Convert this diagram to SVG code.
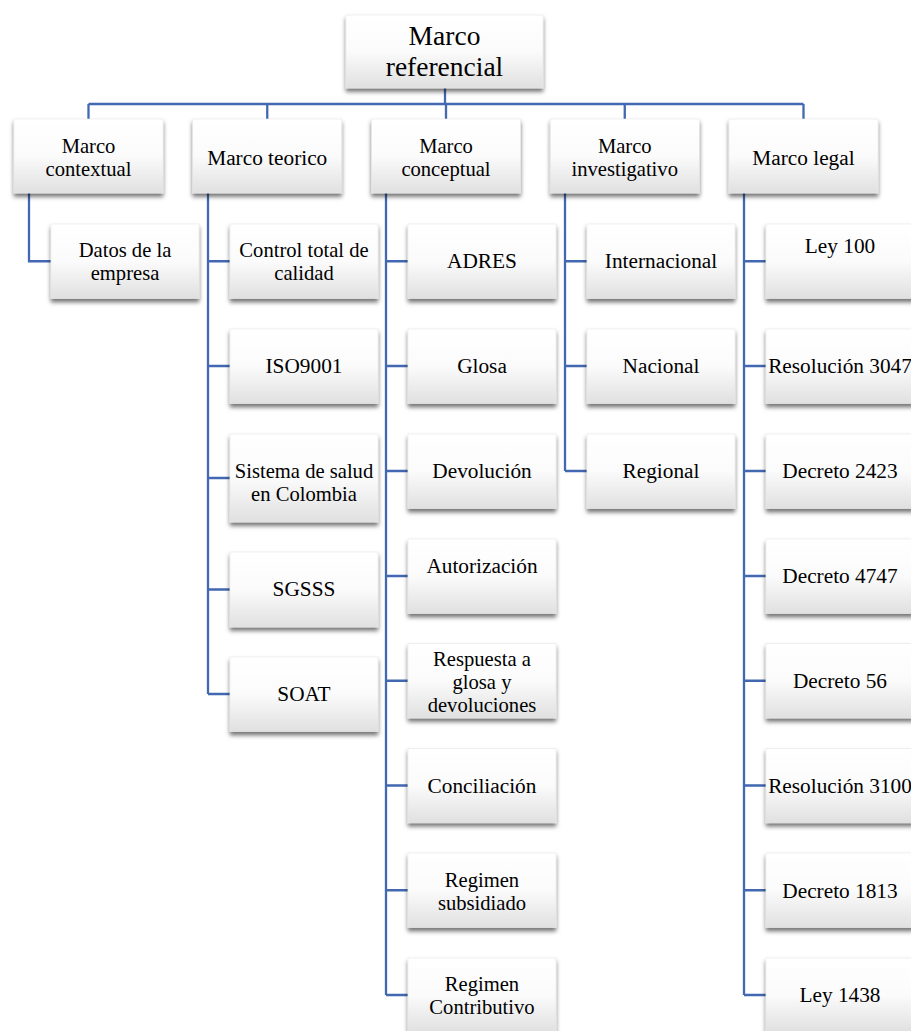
<svg xmlns="http://www.w3.org/2000/svg" width="911" height="1031" viewBox="0 0 911 1031">
<defs>
<linearGradient id="g" x1="0" y1="0" x2="0" y2="1">
<stop offset="0" stop-color="#ffffff"/>
<stop offset="0.5" stop-color="#fbfbfb"/>
<stop offset="1" stop-color="#e0e0e0"/>
</linearGradient>
<filter id="sh" x="-10%" y="-10%" width="120%" height="130%">
<feDropShadow dx="0" dy="3.5" stdDeviation="2.2" flood-color="#000" flood-opacity="0.55"/>
</filter>
<style>
.b{fill:url(#g);stroke:#e6e6e6;stroke-width:0.6;filter:url(#sh)}
.t{font-family:"Liberation Serif","Times New Roman",serif;font-size:21.3px;text-anchor:middle;fill:#000}
.m{font-family:"Liberation Serif","Times New Roman",serif;font-size:20.6px;text-anchor:middle;fill:#000}
.tt{font-family:"Liberation Serif","Times New Roman",serif;font-size:27.5px;text-anchor:middle;fill:#000}
.c{stroke:#4168b0;stroke-width:2.3;fill:none}
</style>
</defs>
<rect width="911" height="1031" fill="#fff"/>
<g id="connectors" class="c">
<path d="M445 88V104M88.5 104H803.5M88.5 104V119M267.25 104V119M446 104V119M624.75 104V119M803.5 104V119"/>
<path d="M29 193V261.25H51"/>
<path d="M208 193V694M208 261.25H230M208 366H230M208 478H230M208 589.5H230M208 694H230"/>
<path d="M386 193V995M386 261.25H408M386 366H408M386 471H408M386 576H408M386 680.75H408M386 785.5H408M386 890.25H408M386 995H408"/>
<path d="M565 193V471M565 261.25H587M565 366H587M565 471H587"/>
<path d="M744 193V995M744 261.25H766M744 366H766M744 471H766M744 576H766M744 680.75H766M744 785.5H766M744 890.25H766M744 995H766"/>
</g>
<g id="n-root"><rect class="b" x="346" y="15" width="197" height="73"/><text class="tt" x="444.5" y="45">Marco</text><text class="tt" x="444.5" y="75.5">referencial</text></g>
<g id="n-contextual"><rect class="b" x="14" y="119" width="149" height="74"/><text class="m" x="88.5" y="153">Marco</text><text class="m" x="88.5" y="176">contextual</text></g>
<g id="n-teorico"><rect class="b" x="192.75" y="119" width="149" height="74"/><text class="t" x="267.25" y="164.5">Marco teorico</text></g>
<g id="n-conceptual"><rect class="b" x="371.5" y="119" width="149" height="74"/><text class="m" x="446" y="153">Marco</text><text class="m" x="446" y="176">conceptual</text></g>
<g id="n-investigativo"><rect class="b" x="550.25" y="119" width="149" height="74"/><text class="m" x="624.75" y="153">Marco</text><text class="m" x="624.75" y="176">investigativo</text></g>
<g id="n-legal"><rect class="b" x="729" y="119" width="149" height="74"/><text class="t" x="803.5" y="164.5">Marco legal</text></g>

<g id="n-datos"><rect class="b" x="51" y="224" width="148" height="74.5"/><text class="m" x="125" y="256.5">Datos de la</text><text class="m" x="125" y="279.5">empresa</text></g>

<g id="n-control"><rect class="b" x="230" y="224" width="148" height="74.5"/><text class="m" x="304" y="256.5">Control total de</text><text class="m" x="304" y="279.5">calidad</text></g>
<g id="n-iso"><rect class="b" x="230" y="329" width="148" height="74.5"/><text class="t" x="304" y="373">ISO9001</text></g>
<g id="n-sistema"><rect class="b" x="230" y="434" width="148" height="88"/><text class="m" x="304" y="477.5">Sistema de salud</text><text class="m" x="304" y="500.5">en Colombia</text></g>
<g id="n-sgsss"><rect class="b" x="230" y="552" width="148" height="75"/><text class="t" x="304" y="596">SGSSS</text></g>
<g id="n-soat"><rect class="b" x="230" y="657" width="148" height="74.5"/><text class="t" x="304" y="701">SOAT</text></g>

<g id="n-adres"><rect class="b" x="408" y="224" width="148" height="74.5"/><text class="t" x="482" y="268">ADRES</text></g>
<g id="n-glosa"><rect class="b" x="408" y="329" width="148" height="74.5"/><text class="t" x="482" y="373">Glosa</text></g>
<g id="n-devolucion"><rect class="b" x="408" y="434" width="148" height="74.5"/><text class="t" x="482" y="478">Devolución</text></g>
<g id="n-autorizacion"><rect class="b" x="408" y="539" width="148" height="74.5"/><text class="t" x="482" y="573">Autorización</text></g>
<g id="n-respuesta"><rect class="b" x="408" y="643.5" width="148" height="74.5"/><text class="m" x="482" y="665.5">Respuesta a</text><text class="m" x="482" y="688.5">glosa y</text><text class="m" x="482" y="711.5">devoluciones</text></g>
<g id="n-conciliacion"><rect class="b" x="408" y="748.3" width="148" height="74.5"/><text class="t" x="482" y="792.5">Conciliación</text></g>
<g id="n-subsidiado"><rect class="b" x="408" y="853" width="148" height="74.5"/><text class="m" x="482" y="886.5">Regimen</text><text class="m" x="482" y="909.5">subsidiado</text></g>
<g id="n-contributivo"><rect class="b" x="408" y="958" width="148" height="74.5"/><text class="m" x="482" y="991">Regimen</text><text class="m" x="482" y="1014">Contributivo</text></g>

<g id="n-internacional"><rect class="b" x="587" y="224" width="148" height="74.5"/><text class="t" x="661" y="268">Internacional</text></g>
<g id="n-nacional"><rect class="b" x="587" y="329" width="148" height="74.5"/><text class="t" x="661" y="373">Nacional</text></g>
<g id="n-regional"><rect class="b" x="587" y="434" width="148" height="74.5"/><text class="t" x="661" y="478">Regional</text></g>

<g id="n-ley100"><rect class="b" x="766" y="224" width="148" height="74.5"/><text class="t" x="840" y="253">Ley 100</text></g>
<g id="n-res3047"><rect class="b" x="766" y="329" width="148" height="74.5"/><text class="t" x="840" y="373">Resolución 3047</text></g>
<g id="n-dec2423"><rect class="b" x="766" y="434" width="148" height="74.5"/><text class="t" x="840" y="478">Decreto 2423</text></g>
<g id="n-dec4747"><rect class="b" x="766" y="539" width="148" height="74.5"/><text class="t" x="840" y="583">Decreto 4747</text></g>
<g id="n-dec56"><rect class="b" x="766" y="643.5" width="148" height="74.5"/><text class="t" x="840" y="688">Decreto 56</text></g>
<g id="n-res3100"><rect class="b" x="766" y="748.3" width="148" height="74.5"/><text class="t" x="840" y="793">Resolución 3100</text></g>
<g id="n-dec1813"><rect class="b" x="766" y="853" width="148" height="74.5"/><text class="t" x="840" y="897.5">Decreto 1813</text></g>
<g id="n-ley1438"><rect class="b" x="766" y="958" width="148" height="74.5"/><text class="t" x="840" y="1002">Ley 1438</text></g>
</svg>
